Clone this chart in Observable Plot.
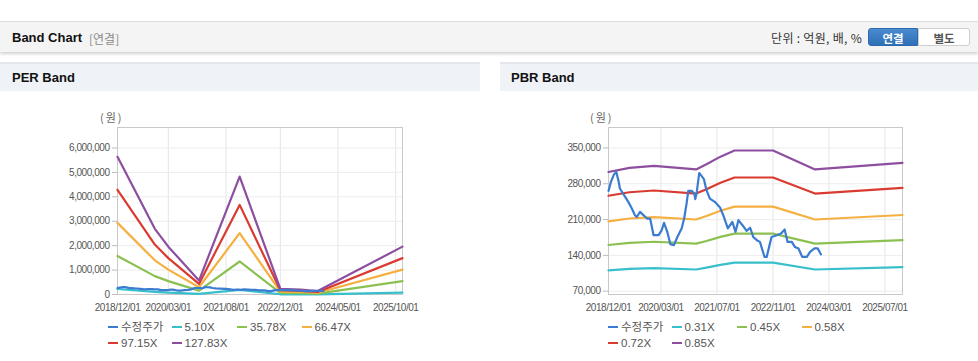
<!DOCTYPE html>
<html><head><meta charset="utf-8">
<script src="https://cdn.jsdelivr.net/npm/d3@7"></script>
<script src="https://cdn.jsdelivr.net/npm/@observablehq/plot@0.6"></script>
<style>
html,body{margin:0;padding:0;background:#fff;}
body{width:978px;height:361px;position:relative;overflow:hidden;font-family:"Liberation Sans",Arial,"Noto Sans CJK KR",sans-serif;}
.abs{position:absolute;}
#topbar{left:0;top:21px;width:978px;height:30px;background:#f4f4f4;border-top:1px solid #dcdcdc;box-shadow:0 2px 3px rgba(0,0,0,0.18);}
#title{left:12px;top:30px;font-size:13px;font-weight:bold;color:#111;line-height:16px;}
#sub{left:89px;top:31px;font-size:12px;color:#8a8a8a;line-height:15px;font-family:"Noto Sans CJK KR",sans-serif;}
#unit{right:116px;top:30px;font-size:12px;color:#333;line-height:16px;font-family:"Noto Sans CJK KR",sans-serif;letter-spacing:0.3px;}
.btn{top:28px;height:18px;width:50px;font-size:11.5px;font-weight:bold;text-align:center;line-height:18px;font-family:"Noto Sans CJK KR",sans-serif;box-sizing:border-box;}
#b1{left:868px;background:linear-gradient(#4a8ad0,#2f6fb5);color:#fff;border:1px solid #2d69ad;border-radius:3px 0 0 3px;}
#b2{left:918px;width:52px;background:#fff;color:#555;border:1px solid #cfcfcf;border-radius:0 3px 3px 0;}
.ph{top:62px;height:29px;background:#eff2f6;border-top:2px solid #e3e7ec;box-sizing:border-box;}
.pht{top:70px;font-size:13px;font-weight:bold;color:#111;line-height:16px;}
.won{font-size:11px;color:#666;top:109px;font-family:"Noto Sans CJK KR",sans-serif;letter-spacing:2px;}
.leg{font-size:11.5px;color:#555;line-height:14px;white-space:nowrap;}
.leg .sw{display:inline-block;width:10px;height:2px;vertical-align:middle;margin-right:3px;position:relative;top:-1px;}
.leg span.t{font-family:"Liberation Sans",Arial,"Noto Sans CJK KR",sans-serif;}
</style></head>
<body>
<div id="topbar" class="abs"></div>
<div id="title" class="abs">Band Chart</div>
<div id="sub" class="abs">[연결]</div>
<div id="unit" class="abs">단위 : 억원, 배, %</div>
<div id="b1" class="abs btn">연결</div>
<div id="b2" class="abs btn">별도</div>
<div class="abs ph" style="left:0;width:480px;"></div>
<div class="abs pht" style="left:12px;">PER Band</div>
<div class="abs ph" style="left:500px;width:478px;"></div>
<div class="abs pht" style="left:511px;">PBR Band</div>
<div class="abs won" style="left:100px;">(원)</div>
<div class="abs won" style="left:590px;">(원)</div>
<div id="per" class="abs" style="left:0;top:91px;"></div>
<div id="pbr" class="abs" style="left:489px;top:91px;"></div>
<div id="legPer"></div>
<div id="legPbr"></div>
<script>
// ---- series names & colors
const seriesColors = ["#3b7bd0", "#38bfcc", "#8cc152", "#f5b041", "#d93b30", "#8e4ea0"];
const perNames = ["수정주가", "5.10X", "35.78X", "66.47X", "97.15X", "127.83X"];
const pbrNames = ["수정주가", "0.31X", "0.45X", "0.58X", "0.72X", "0.85X"];

// ---- adjusted stock price (원)
const priceDates = ["2018-12-01","2018-12-22","2019-01-19","2019-02-07","2019-02-28","2019-03-10","2019-04-25","2019-05-22","2019-06-22","2019-07-19","2019-08-04","2019-09-01","2019-10-01","2019-11-01","2019-11-28","2019-12-28","2020-02-10","2020-03-07","2020-03-28","2020-04-25","2020-05-22","2020-06-22","2020-07-22","2020-08-28","2020-09-19","2020-10-10","2020-10-25","2020-11-25","2020-12-16","2020-12-25","2021-01-07","2021-01-28","2021-02-12","2021-03-10","2021-04-01","2021-05-01","2021-06-12","2021-07-28","2021-08-25","2021-10-04","2021-11-12","2021-12-10","2022-01-04","2022-02-15","2022-03-16","2022-04-16","2022-05-13","2022-06-13","2022-07-10","2022-08-19","2022-09-07","2022-09-28","2022-10-19","2022-12-04","2023-01-10","2023-02-10","2023-03-07","2023-04-13","2023-05-10","2023-06-10","2023-07-13","2023-08-22","2023-09-19","2023-10-28","2023-11-25","2023-12-22"];
const priceValues = [266000,283700,298700,303000,283700,270800,254400,244600,231600,218600,215000,225000,218600,212000,212000,179500,179500,189000,203500,186000,162000,160000,176000,192600,212000,241400,266000,266000,261000,250000,264000,301000,296800,289000,267500,251000,244600,233600,218600,192600,205500,186000,208800,197000,188000,194000,176000,169700,166400,137000,137000,156600,176000,179500,182800,190600,166400,166400,156600,153500,137000,137000,147000,153500,153500,142000];

// ---- PER bands (원)
const perDates = ["2018-12-01","2019-11-01","2020-03-01","2020-12-01","2021-12-01","2022-12-01","2023-06-01","2023-11-01","2025-12-01"];
const per510  = [225000,107000,78000,23000,193000,9000,8000,6000,78000];
const per3578 = [1579000,753000,549000,160000,1352000,64000,56000,39000,549000];
const per6647 = [2933000,1399000,1019000,296000,2512000,120000,104000,73000,1019000];
const per9715 = [4290000,2045000,1490000,433000,3670000,175000,152000,106000,1490000];
const per12783 = [5640000,2690000,1960000,570000,4830000,230000,200000,140000,1960000];
const perXTicks = ["2018-12-01","2020-03-01","2021-08-01","2022-12-01","2024-05-01","2025-10-01"];
const perYTicks = [0,1000000,2000000,3000000,4000000,5000000,6000000];

// ---- PBR bands (원)
const pbrDates = ["2018-12-01","2019-06-01","2020-01-01","2021-01-01","2021-04-01","2021-08-01","2021-12-01","2022-11-01","2023-11-01","2025-12-01"];
const pbr031 = [110600,113500,115000,112400,116100,121500,125900,125900,112400,117200];
const pbr045 = [160300,164500,166600,162900,168200,176200,182500,182500,162900,169800];
const pbr058 = [206600,212100,214800,210100,216900,227100,235300,235300,210100,218900];
const pbr072 = [256600,263400,266800,260900,269300,282000,292200,292200,260900,271900];
const pbr085 = [303000,311000,315000,308000,318000,333000,345000,345000,308000,321000];
const pbrXTicks = ["2018-12-01","2020-03-01","2021-07-01","2022-11-01","2024-03-01","2025-07-01"];
const pbrYTicks = [70000,140000,210000,280000,350000];

const P = s => new Date(s + "T00:00:00Z");
function tidy(names, dates, bands) {
  const rows = [];
  bands.forEach((vals, i) => vals.forEach((v, j) => rows.push({series: names[i + 1], date: P(dates[j]), value: v})));
  return rows;
}
const priceRows = name => priceDates.map((d, j) => ({series: name, date: P(d), value: priceValues[j]}));

function chart(el, names, dates, bands, xTicks, yTicks, yDomain, ml, mr) {
  const bandRows = tidy(names, dates, bands);
  const pr = priceRows(names[0]);
  const xt = xTicks.map(P);
  const svg = Plot.plot({
    width: 489, height: 230,
    marginLeft: ml, marginRight: mr, marginTop: 36, marginBottom: 27,
    style: {fontFamily: "'Liberation Sans', Arial, sans-serif", fontSize: "10px", letterSpacing: "-0.45px", color: "#555", background: "transparent", overflow: "visible"},
    x: {type: "utc", domain: [P("2018-12-01"), P("2025-12-01")]},
    y: {domain: yDomain},
    color: {domain: names, range: seriesColors},
    marks: [
      Plot.gridX(xt, {stroke: "#e4e4e4", strokeOpacity: 1}),
      Plot.gridY(yTicks, {stroke: "#ededed", strokeOpacity: 1}),
      Plot.frame({stroke: "#c9c9c9"}),
      Plot.axisX(xt, {tickSize: 0, tickPadding: 9, tickFormat: d3.utcFormat("%Y/%m/%d"), label: null, fill: "#555"}),
      Plot.axisY(yTicks, {tickSize: 5, tickPadding: 3, tickFormat: d3.format(","), label: null, fill: "#555", stroke: "#bbb"}),
      Plot.line(bandRows, {x: "date", y: "value", z: "series", stroke: "series", strokeWidth: 2.2}),
      Plot.line(pr, {x: "date", y: "value", stroke: "series", strokeWidth: 2.2})
    ]
  });
  document.getElementById(el).appendChild(svg);
}

chart("per", perNames, perDates, [per510, per3578, per6647, per9715, per12783], perXTicks, perYTicks, [0, 6840000], 117, 87);
chart("pbr", pbrNames, pbrDates, [pbr031, pbr045, pbr058, pbr072, pbr085], pbrXTicks, pbrYTicks, [63500, 390000], 119, 76);

function legend(el, names, x0) {
  const cols = [0, 63.5, 129, 193.5];
  const host = document.getElementById(el);
  names.forEach((n, i) => {
    const d = document.createElement("div");
    d.className = "abs leg";
    d.style.left = (x0 + cols[i % 4]) + "px";
    d.style.top = (i < 4 ? 320 : 336) + "px";
    d.innerHTML = `<span class="sw" style="background:${seriesColors[i]}"></span><span class="t">${n}</span>`;
    host.appendChild(d);
  });
}
legend("legPer", perNames, 108);
legend("legPbr", pbrNames, 608);
</script>
</body></html>
